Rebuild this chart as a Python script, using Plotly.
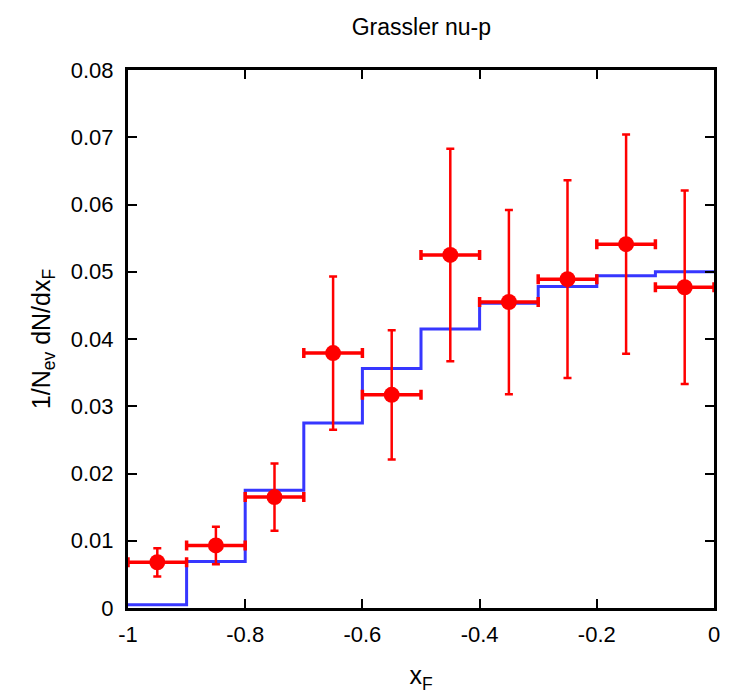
import plotly.graph_objects as go

# Histogram (model) bin edges and values
bin_edges = [-1.0, -0.9, -0.8, -0.7, -0.6, -0.5, -0.4, -0.3, -0.2, -0.1, 0.0]
model_vals = [0.0005, 0.0069, 0.0175, 0.0275, 0.0356, 0.0415, 0.0453, 0.0478, 0.0494, 0.0500]

# Data points
data_x = [-0.95, -0.85, -0.75, -0.65, -0.55, -0.45, -0.35, -0.25, -0.15, -0.05]
data_y = [0.0068, 0.0093, 0.0165, 0.0379, 0.0317, 0.0525, 0.0455, 0.0489, 0.0541, 0.0477]
data_err = [0.0021, 0.0028, 0.0050, 0.0114, 0.0096, 0.0158, 0.0137, 0.0147, 0.0163, 0.0144]
data_xerr = [0.05] * 10

x_ticks = [-1, -0.8, -0.6, -0.4, -0.2, 0]
x_ticktext = ["-1", "-0.8", "-0.6", "-0.4", "-0.2", "0"]
y_ticks = [0, 0.01, 0.02, 0.03, 0.04, 0.05, 0.06, 0.07, 0.08]
y_ticktext = ["0", "0.01", "0.02", "0.03", "0.04", "0.05", "0.06", "0.07", "0.08"]

font_fam = "Liberation Sans, Arial, sans-serif"

fig = go.Figure()
fig.add_trace(go.Scatter(
    x=bin_edges, y=model_vals + [model_vals[-1]],
    mode="lines", line=dict(color="rgb(55,55,255)", width=3, shape="hv"),
    showlegend=False, hoverinfo="skip"))
fig.add_trace(go.Scatter(
    x=data_x, y=data_y, mode="markers",
    marker=dict(color="red", size=16, symbol="circle"),
    error_y=dict(type="data", array=data_err, color="red", thickness=2.5, width=4),
    error_x=dict(type="data", array=data_xerr, color="red", thickness=3.5, width=5),
    showlegend=False))

fig.update_layout(
    width=729, height=700,
    margin=dict(l=128, r=15, t=70, b=92),
    plot_bgcolor="white", paper_bgcolor="white",
    title=dict(text="Grassler nu-p", x=0.578, xanchor="center", y=0.962, yanchor="middle",
               font=dict(family=font_fam, size=23, color="black")),
    xaxis=dict(range=[-1, 0], tickvals=x_ticks, ticktext=x_ticktext, automargin=False,
               showline=True, linecolor="black", linewidth=3, mirror="ticks",
               ticks="inside", ticklen=9, tickwidth=2, tickcolor="black",
               showgrid=False, zeroline=False, ticklabelstandoff=5,
               tickfont=dict(family=font_fam, size=22, color="black"),
               title=dict(text="x<sub>F</sub>", font=dict(family=font_fam, size=25, color="black"), standoff=21)),
    yaxis=dict(range=[0, 0.08], tickvals=y_ticks, ticktext=y_ticktext, automargin=False,
               showline=True, linecolor="black", linewidth=3, mirror="ticks",
               ticks="inside", ticklen=9, tickwidth=2, tickcolor="black",
               showgrid=False, zeroline=False, ticklabelstandoff=7,
               tickfont=dict(family=font_fam, size=22, color="black"),
               title=dict(text="1/N<sub>ev</sub> dN/dx<sub>F</sub>", font=dict(family=font_fam, size=25, color="black"), standoff=14)),
)

fig.write_html("out.html")
